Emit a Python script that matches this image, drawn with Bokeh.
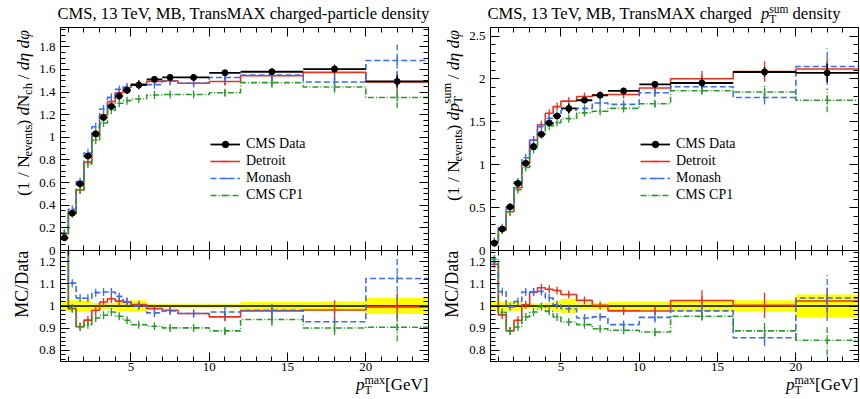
import math
from bokeh.plotting import figure
from bokeh.models import (LinearAxis, SingleIntervalTicker, CustomJSTickFormatter, Range1d,
                          Legend, LegendItem)
from bokeh.core.properties import value
from bokeh.layouts import row, column
from bokeh.embed import file_html
from bokeh.resources import INLINE

# ---------------- data ----------------
pt_edges = [0.5, 1.0, 1.5, 2.0, 2.5, 3.0, 3.5, 4.0, 4.5, 5.0, 6.0, 7.0, 8.0, 10.0, 12.0, 16.0, 20.0, 24.0]

# TransMAX charged-particle density
nch_data = [0.112, 0.330, 0.589, 0.834, 1.031, 1.176, 1.273, 1.364, 1.415, 1.462, 1.512, 1.529, 1.529, 1.570, 1.579, 1.603, 1.494]
nch_data_relerr = [0.020, 0.026, 0.026, 0.026, 0.013, 0.013, 0.013, 0.022, 0.022, 0.026, 0.010, 0.010, 0.010, 0.010, 0.018, 0.020, 0.036]
nch_detroit = [0.148, 0.326, 0.534, 0.781, 1.011, 1.197, 1.315, 1.394, 1.440, 1.471, 1.494, 1.500, 1.477, 1.493, 1.544, 1.574, 1.488]
nch_detroit_relerr = [0.010, 0.005, 0.005, 0.005, 0.005, 0.005, 0.005, 0.005, 0.005, 0.006, 0.006, 0.008, 0.010, 0.020, 0.030, 0.045, 0.065]
nch_monash = [0.155, 0.364, 0.610, 0.863, 1.093, 1.250, 1.353, 1.423, 1.443, 1.462, 1.465, 1.495, 1.477, 1.528, 1.549, 1.489, 1.679]
nch_monash_relerr = [0.010, 0.005, 0.005, 0.005, 0.005, 0.005, 0.005, 0.005, 0.005, 0.006, 0.006, 0.008, 0.010, 0.025, 0.040, 0.050, 0.090]
nch_cp1 = [0.152, 0.327, 0.534, 0.764, 0.975, 1.127, 1.239, 1.301, 1.324, 1.339, 1.374, 1.378, 1.378, 1.394, 1.483, 1.444, 1.351]
nch_cp1_relerr = [0.010, 0.005, 0.005, 0.005, 0.005, 0.005, 0.005, 0.005, 0.005, 0.006, 0.006, 0.008, 0.010, 0.020, 0.030, 0.035, 0.070]

# TransMAX charged pT-sum density
psum_data = [0.085, 0.250, 0.508, 0.782, 1.017, 1.212, 1.355, 1.488, 1.568, 1.656, 1.752, 1.809, 1.860, 1.938, 1.953, 2.081, 2.070]
psum_data_relerr = [0.020, 0.021, 0.021, 0.021, 0.012, 0.012, 0.012, 0.015, 0.022, 0.033, 0.015, 0.015, 0.020, 0.020, 0.026, 0.026, 0.052]
psum_detroit = [0.101, 0.240, 0.451, 0.732, 1.023, 1.288, 1.466, 1.600, 1.678, 1.742, 1.796, 1.814, 1.819, 1.895, 2.002, 2.087, 2.116]
psum_detroit_relerr = [0.010, 0.006, 0.006, 0.006, 0.006, 0.006, 0.006, 0.006, 0.006, 0.008, 0.008, 0.010, 0.012, 0.015, 0.045, 0.057, 0.060]
psum_monash = [0.102, 0.266, 0.506, 0.798, 1.081, 1.288, 1.444, 1.542, 1.577, 1.636, 1.657, 1.720, 1.704, 1.839, 1.910, 1.783, 2.145]
psum_monash_relerr = [0.010, 0.006, 0.006, 0.006, 0.006, 0.006, 0.006, 0.006, 0.006, 0.008, 0.008, 0.010, 0.012, 0.024, 0.030, 0.045, 0.100]
psum_cp1 = [0.103, 0.243, 0.451, 0.708, 0.967, 1.179, 1.350, 1.452, 1.491, 1.537, 1.605, 1.624, 1.657, 1.711, 1.863, 1.848, 1.751]
psum_cp1_relerr = [0.010, 0.006, 0.006, 0.006, 0.006, 0.006, 0.006, 0.006, 0.006, 0.008, 0.008, 0.010, 0.012, 0.022, 0.020, 0.040, 0.080]

series_names = ["Detroit", "Monash", "CMS CP1"]
series_colors = ["#e8321e", "#3b6cf2", "#2a9a2a"]
series_dashes = ["solid", "6 3", "6 2 1 2"]

# ---------------- layout constants ----------------
FONT = "Liberation Serif"
COLW = 430          # width of one panel column
YLW = 36            # width of the y-label strip
FW = 371            # frame width
LB = 21             # left border of the plot figures (tick labels)
RB = COLW - YLW - LB - FW
TITLE_H = 27
HM, HR = 223, 111   # frame heights (main, ratio)
OVL = 7             # overlap between main and ratio figures (room for the "0" tick label)
RBOT = 16           # ratio bottom border (x tick labels)
XOVL = 9            # overlap of the x-label strip with the ratio figure's bottom border
XL_H = 399 - TITLE_H - HM - HR - RBOT + XOVL
BASE_K = 0.337      # measured offset of the drawn baseline from the text anchor (fraction of font size)

# Times/Liberation Serif advance widths (1/1000 em), for composite (sub/superscript) text placement
CW = {' ': 250, '(': 333, ')': 333, ',': 250, '-': 333, '.': 250, '/': 278, '[': 333, ']': 333,
      '0': 500, '1': 500, '2': 500, '3': 500, '4': 500, '5': 500, '6': 500, '7': 500, '8': 500, '9': 500,
      'A': 722, 'B': 667, 'C': 667, 'D': 722, 'G': 722, 'M': 889, 'N': 722, 'S': 556, 'T': 611,
      'V': 722, 'X': 722, 'a': 444, 'c': 444, 'd': 500, 'e': 444, 'g': 500, 'h': 500, 'i': 278,
      'l': 278, 'm': 778, 'n': 500, 'p': 500, 'r': 333, 's': 389, 't': 278, 'u': 500, 'v': 500,
      'x': 500, 'y': 500, 'η': 500, 'φ': 540}


def w_text(s, size):
    return sum(CW.get(ch, 500) for ch in s) * size / 1000.0


def rich_width(pieces):
    return sum(w_text(t, s) for t, s, sh, st, adv in pieces if adv)


def text_fig(w, h):
    f = figure(width=w, height=h, x_range=Range1d(0, w), y_range=Range1d(0, h), title=None,
               x_axis_type=None, y_axis_type=None, output_backend="svg", toolbar_location=None,
               min_border=0, outline_line_color=None)
    f.background_fill_alpha = 0
    f.border_fill_alpha = 0
    return f


def rich_text(p, pieces, x0, y0, rotated=False, align="left"):
    """x0, y0: position of the (main) baseline start, in the strip's pixel units."""
    pos = 0.0
    if align == "right":
        pos = -rich_width(pieces)
    for text, size, shift, style, adv in pieces:
        lead = w_text(text[:len(text) - len(text.lstrip(' '))], size)
        shown = text.strip(' ')
        up = shift + BASE_K * size
        if shown:
            if rotated:
                lx, ly, ang = x0 - up, y0 + pos + lead, math.pi / 2
            else:
                lx, ly, ang = x0 + pos + lead, y0 + up, 0.0
            p.text(x=[lx], y=[ly], text=[shown], angle=ang, text_font=value(FONT),
                   text_font_size=value(f"{size}px"), text_font_style=value(style),
                   text_color="black", text_align=value("left"), text_baseline=value("alphabetic"))
        if adv:
            pos += w_text(text, size)


NUM_FMT = CustomJSTickFormatter(code="return (Math.round(tick*1000)/1000).toString();")
BLANK_FMT = CustomJSTickFormatter(code="return '';")


def mk_axis(interval, nminor, labels, standoff=4):
    return LinearAxis(
        ticker=SingleIntervalTicker(interval=interval, num_minor_ticks=nminor),
        formatter=NUM_FMT if labels else BLANK_FMT,
        axis_line_color="black", axis_line_width=1,
        major_tick_line_color="black", minor_tick_line_color="black",
        major_tick_in=9, major_tick_out=0, minor_tick_in=5, minor_tick_out=0,
        major_label_standoff=standoff if labels else 0,
        major_label_text_font=FONT, major_label_text_font_size="13px" if labels else "0px",
        major_label_text_color="black")


def plot_fig(height, ymin, ymax, bottom):
    p = figure(width=COLW - YLW, height=height, x_range=Range1d(0.5, 24.0), y_range=Range1d(ymin, ymax),
               x_axis_type=None, y_axis_type=None, output_backend="svg", toolbar_location=None,
               min_border_left=LB, min_border_right=RB, min_border_top=0, min_border_bottom=bottom)
    p.outline_line_color = "black"
    p.outline_line_width = 1
    return p


centers = [(a + b) / 2 for a, b in zip(pt_edges[:-1], pt_edges[1:])]


def step_vals(v):
    return list(v) + [v[-1]]


def draw_panel(data, data_err, mcs, mc_errs, ymax, yint, yminor, title_pieces, ylabel_pieces):
    # ---------- title strip ----------
    tf = text_fig(COLW, TITLE_H)
    rich_text(tf, title_pieces, YLW + LB, 8)

    # ---------- main ----------
    pm = plot_fig(HM + OVL, 0.0, ymax, OVL)
    pm.background_fill_color = "white"
    pm.border_fill_color = "white"
    pm.add_layout(mk_axis(5, 5, False), "below")
    pm.add_layout(mk_axis(5, 5, False), "above")
    pm.add_layout(mk_axis(yint, yminor, True, 5), "left")
    pm.add_layout(mk_axis(yint, yminor, False), "right")

    mc_items = []
    for vals, rel, name, col, dash in zip(mcs, mc_errs, series_names, series_colors, series_dashes):
        r_line = pm.step(pt_edges, step_vals(vals), mode="after", line_color=col, line_dash=dash, line_width=1.6)
        errs = [v * e for v, e in zip(vals, rel)]
        pm.segment(x0=centers, y0=[v - e for v, e in zip(vals, errs)], x1=centers,
                   y1=[v + e for v, e in zip(vals, errs)], line_color=col, line_dash=dash, line_width=1.3)
        r_tick = pm.scatter(centers, vals, marker="dash", angle=math.pi / 2, size=8,
                            line_color=col, line_width=1.3)
        mc_items.append(LegendItem(label=name, renderers=[r_line, r_tick]))

    abs_err = [v * e for v, e in zip(data, data_err)]
    r_dx = pm.segment(x0=pt_edges[:-1], y0=data, x1=pt_edges[1:], y1=data, line_color="black", line_width=1.8)
    pm.segment(x0=centers, y0=[v - e for v, e in zip(data, abs_err)], x1=centers,
               y1=[v + e for v, e in zip(data, abs_err)], line_color="black", line_width=1.5)
    r_dp = pm.scatter(centers, data, marker="circle", size=6, fill_color="black", line_color="black")
    items = [LegendItem(label="CMS Data", renderers=[r_dx, r_dp])] + mc_items

    leg = Legend(items=items, location=(150, 47), padding=0, margin=0, spacing=1,
                 glyph_width=30, glyph_height=16, label_height=16, label_standoff=6,
                 label_text_font=FONT, label_text_font_size="14px", label_text_color="black",
                 border_line_color=None, background_fill_alpha=0)
    pm.add_layout(leg)

    yl = text_fig(YLW, HM + OVL)
    L = rich_width(ylabel_pieces)
    rich_text(yl, ylabel_pieces, 28, HM + OVL - 4 - L, rotated=True)

    # ---------- ratio ----------
    pr = plot_fig(HR + RBOT, 0.75, 1.25, RBOT)
    pr.background_fill_alpha = 0
    pr.border_fill_alpha = 0
    pr.add_layout(mk_axis(5, 5, True, 1), "below")
    pr.add_layout(mk_axis(5, 5, False), "above")
    pr.add_layout(mk_axis(0.1, 5, True, 5), "left")
    pr.add_layout(mk_axis(0.1, 5, False), "right")

    pr.quad(left=pt_edges[:-1], right=pt_edges[1:], bottom=[1 - e for e in data_err],
            top=[1 + e for e in data_err], fill_color="#ffff00", line_color=None)
    pr.step(pt_edges, step_vals([d / d for d in data]), mode="after", line_color="black", line_width=1.3)
    for vals, rel, col, dash in zip(mcs, mc_errs, series_colors, series_dashes):
        ratio = [v / d for v, d in zip(vals, data)]
        rerr = [v * e / d for v, e, d in zip(vals, rel, data)]
        pr.step(pt_edges, step_vals(ratio), mode="after", line_color=col, line_dash=dash, line_width=1.6)
        pr.segment(x0=centers, y0=[r - e for r, e in zip(ratio, rerr)], x1=centers,
                   y1=[r + e for r, e in zip(ratio, rerr)], line_color=col, line_dash=dash, line_width=1.3)
        pr.scatter(centers, ratio, marker="dash", angle=math.pi / 2, size=8, line_color=col, line_width=1.3)

    mc = text_fig(YLW, HR + RBOT)
    rich_text(mc, [("MC/Data", 18, 0, "normal", True)], 28, HR + RBOT - 10, rotated=True, align="right")

    # ---------- x label strip (overlaps the ratio figure's bottom border, transparent) ----------
    xf = text_fig(COLW, XL_H)
    xl = [("p", 17, 0, "italic", True), ("T", 12, -4, "normal", False),
          ("max", 12, 6, "normal", True), ("[GeV]", 17, 0, "normal", True)]
    rich_text(xf, xl, YLW + LB + FW, 9, align="right")

    return column(tf, row(yl, pm), row(mc, pr, margin=(-OVL, 0, 0, 0)),
                  row(xf, margin=(-XOVL, 0, 0, 0)))


title_l = [("CMS, 13 TeV, MB, TransMAX charged-particle density", 16.6, 0, "normal", True)]
title_r = [("CMS, 13 TeV, MB, TransMAX charged ", 16.6, 0, "normal", True), ("p", 16.6, 0, "italic", True),
           ("T", 11.5, -3.5, "normal", False), ("sum", 11.5, 6.5, "normal", True),
           (" density", 16.6, 0, "normal", True)]
ylab_l = [("(1 / N", 17.5, 0, "normal", True), ("events", 12.5, -4, "normal", True),
          (") ", 17.5, 0, "normal", True), ("d", 17.5, 0, "italic", True), ("N", 17.5, 0, "normal", True),
          ("ch", 12.5, -4, "normal", True), (" / ", 17.5, 0, "normal", True), ("dη dφ", 17.5, 0, "italic", True)]
ylab_r = [("(1 / N", 17.5, 0, "normal", True), ("events", 12.5, -4, "normal", True),
          (") ", 17.5, 0, "normal", True), ("dp", 17.5, 0, "italic", True), ("T", 12.5, -4, "normal", False),
          ("sum", 12.5, 7, "normal", True), (" / ", 17.5, 0, "normal", True), ("dη dφ", 17.5, 0, "italic", True)]

left = draw_panel(nch_data, nch_data_relerr, [nch_detroit, nch_monash, nch_cp1],
                  [nch_detroit_relerr, nch_monash_relerr, nch_cp1_relerr], 1.97, 0.2, 4, title_l, ylab_l)
right = draw_panel(psum_data, psum_data_relerr, [psum_detroit, psum_monash, psum_cp1],
                   [psum_detroit_relerr, psum_monash_relerr, psum_cp1_relerr], 2.6, 0.5, 5, title_r, ylab_r)

layout = row(left, right)
open("out.html", "w").write(file_html(layout, INLINE, title="TransMAX densities"))
